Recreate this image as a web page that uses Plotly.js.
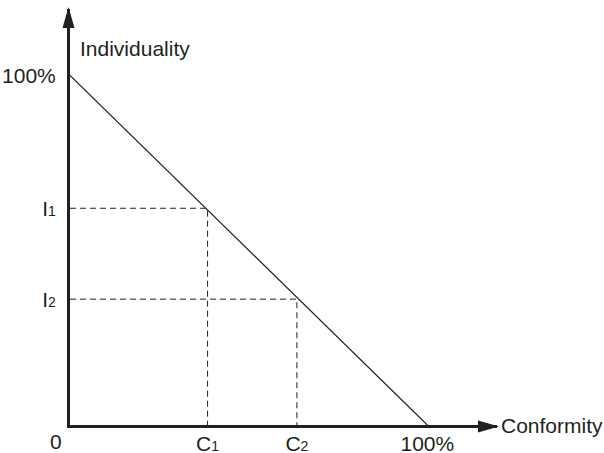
<!DOCTYPE html>
<html><head><meta charset="utf-8">
<script src="https://cdn.plot.ly/plotly-3.0.1.min.js"></script>
<style>html,body{margin:0;padding:0;background:#fff}#chart{width:604px;height:453px}</style>
</head><body><div id="chart"></div>
<script>
// Trade-off line: Individuality vs Conformity (fractions of 100%)
const lineX = [0, 1];
const lineY = [1, 0];
// Two example points on the line
const pointC = [0.385, 0.635];   // C1, C2
const pointI = [0.62, 0.36];     // I1, I2
const xTickVals = [0.385, 0.635, 1];
const xTickText = ['C<span style="font-size:14px">1</span>', 'C<span style="font-size:14px">2</span>', '100%'];
const yTickVals = [0.36, 0.62, 1];
const yTickText = ['I<span style="font-size:14px">2</span>', 'I<span style="font-size:14px">1</span>', '100%'];
const xTitle = 'Conformity';
const yTitle = 'Individuality';
const originLabel = '0';

const XMAX = 1.195, YMAX = 1.19;
const ink = '#231f20';
const fontFam = '"Liberation Sans", Arial, Helvetica, sans-serif';
const FS = 21;

const traces = [{
  x: lineX, y: lineY, mode: 'lines', type: 'scatter', cliponaxis: false,
  line: {color: ink, width: 1.2}, hoverinfo: 'skip'
}];
pointC.forEach((c, i) => {
  traces.push({
    x: [0, c, c], y: [pointI[i], pointI[i], 0], mode: 'lines', type: 'scatter',
    cliponaxis: false, line: {color: ink, width: 1, dash: '6px,4px'}, hoverinfo: 'skip'
  });
});

const layout = {
  width: 604, height: 453,
  margin: {l: 70, r: 107.4, t: 8.5, b: 28, pad: 0},
  paper_bgcolor: '#fff', plot_bgcolor: '#fff',
  showlegend: false,
  font: {family: fontFam, size: FS, color: ink},
  xaxis: {
    range: [0, XMAX], showgrid: false, zeroline: false,
    showline: true, linewidth: 3, linecolor: ink,
    tickmode: 'array', tickvals: xTickVals, ticktext: xTickText,
    ticks: '', ticklabelstandoff: -2, tickfont: {size: FS, color: ink}
  },
  yaxis: {
    range: [0, YMAX], showgrid: false, zeroline: false,
    showline: true, linewidth: 3, linecolor: ink,
    tickmode: 'array', tickvals: yTickVals, ticktext: yTickText,
    ticks: '', ticklabelstandoff: 7, tickfont: {size: FS, color: ink}
  },
  shapes: [
    {type: 'path', xref: 'paper', yref: 'paper', xsizemode: 'pixel', ysizemode: 'pixel',
     xanchor: 1, yanchor: 0, path: 'M2,-1.5 L-19,4.5 L-19,-7.5 Z',
     fillcolor: ink, line: {width: 0}},
    {type: 'path', xref: 'paper', yref: 'paper', xsizemode: 'pixel', ysizemode: 'pixel',
     xanchor: 0, yanchor: 1, path: 'M-1.5,2 L-7.5,-19 L4.5,-19 Z',
     fillcolor: ink, line: {width: 0}}
  ],
  annotations: [
    {text: yTitle, xref: 'paper', yref: 'paper', x: 0, y: 1, xanchor: 'left', yanchor: 'middle',
     xshift: 8, yshift: -39, showarrow: false, font: {size: FS, color: ink}},
    {text: xTitle, xref: 'paper', yref: 'paper', x: 1, y: 0, xanchor: 'left', yanchor: 'middle',
     xshift: 2, yshift: 0, showarrow: false, font: {size: FS, color: ink}},
    {text: originLabel, xref: 'x', yref: 'y', x: 0, y: 0, xanchor: 'right', yanchor: 'top',
     xshift: -6, yshift: -3, showarrow: false, font: {size: FS, color: ink}}
  ]
};

Plotly.newPlot('chart', traces, layout, {staticPlot: true, displayModeBar: false});
</script></body></html>
